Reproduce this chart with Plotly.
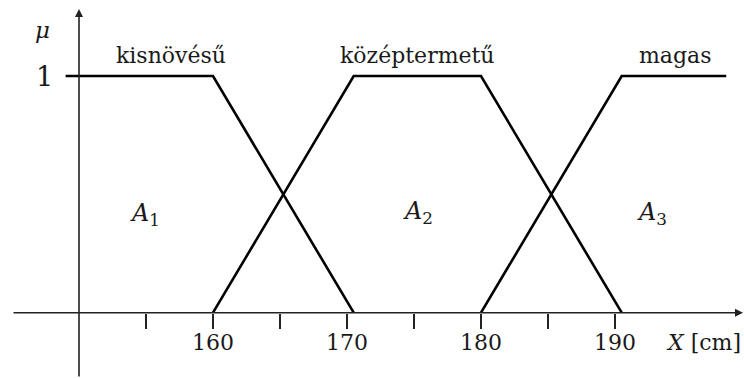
import plotly.graph_objects as go

# Fuzzy membership functions for body height (cm)
a1_x = [149.0, 160.0, 170.5]
a1_mu = [1, 1, 0]
a2_x = [160.0, 170.5, 180.0, 190.5]
a2_mu = [0, 1, 1, 0]
a3_x = [180.0, 190.5, 198.3]
a3_mu = [0, 1, 1]

set_names = ["kisnövésű", "középtermetű", "magas"]
set_symbols = ["A<sub>1</sub>", "A<sub>2</sub>", "A<sub>3</sub>"]

tick_vals = [155, 160, 165, 170, 175, 180, 185, 190]
tick_text = ["", "160", "", "170", "", "180", "", "190"]

W, H = 744, 378
X_RANGE = [144.104, 199.627]
Y_RANGE = [-0.2759, 1.3211]

FONT = "DejaVu Serif"
INK = "#1a1a1a"


def px_to_x(px):
    return X_RANGE[0] + px / W * (X_RANGE[1] - X_RANGE[0])


def py_to_y(py):
    return Y_RANGE[1] - py / H * (Y_RANGE[1] - Y_RANGE[0])


fig = go.Figure()

for xs, ys in [(a1_x, a1_mu), (a2_x, a2_mu), (a3_x, a3_mu)]:
    fig.add_trace(go.Scatter(x=xs, y=ys, mode="lines",
                             line=dict(color="black", width=2.6),
                             hoverinfo="skip", showlegend=False))

# axes drawn as arrows
fig.add_annotation(x=px_to_x(743), y=0, ax=px_to_x(12), ay=0,
                   xref="x", yref="y", axref="x", ayref="y",
                   showarrow=True, arrowhead=2, arrowsize=1.0, arrowwidth=1.6,
                   arrowcolor="#222", text="")
fig.add_annotation(x=150, y=py_to_y(9), ax=150, ay=Y_RANGE[0],
                   xref="x", yref="y", axref="x", ayref="y",
                   showarrow=True, arrowhead=2, arrowsize=1.0, arrowwidth=1.6,
                   arrowcolor="#222", text="")

label_font = dict(family=FONT, size=22, color=INK)

# tick labels under the x axis
for v, t in zip(tick_vals, tick_text):
    if t:
        fig.add_annotation(x=v, y=py_to_y(342), text=t, showarrow=False,
                           xref="x", yref="y", font=label_font,
                           xanchor="center", yanchor="middle")

# set names above the plateaus
for name, cx, cy in zip(set_names, [171, 417, 675], [55, 55, 55]):
    fig.add_annotation(x=px_to_x(cx), y=py_to_y(cy), text=name, showarrow=False,
                       xref="x", yref="y", font=label_font,
                       xanchor="center", yanchor="middle")

# set symbols inside the regions
for sym, cx, cy in zip(set_symbols, [145, 418, 652], [214, 212, 213]):
    fig.add_annotation(x=px_to_x(cx), y=py_to_y(cy), text="<i>" + sym.replace("<sub>", "</i><sub>"),
                       showarrow=False, xref="x", yref="y",
                       font=dict(family=FONT, size=24, color=INK),
                       xanchor="center", yanchor="middle")

fig.add_annotation(x=px_to_x(44), y=1, text="1", showarrow=False,
                   xref="x", yref="y", font=dict(family=FONT, size=27, color=INK),
                   xanchor="center", yanchor="middle")
fig.add_annotation(x=px_to_x(42), y=py_to_y(30), text="<i>μ</i>", showarrow=False,
                   xref="x", yref="y", font=dict(family=FONT, size=23, color=INK),
                   xanchor="center", yanchor="middle")
fig.add_annotation(x=px_to_x(743), y=py_to_y(342), text="<i>X</i> [cm]", showarrow=False,
                   xref="x", yref="y", font=dict(family=FONT, size=22, color=INK),
                   xanchor="right", yanchor="middle")

fig.update_layout(
    width=W, height=H,
    margin=dict(l=0, r=0, t=0, b=0),
    paper_bgcolor="white", plot_bgcolor="white",
    xaxis=dict(range=X_RANGE, anchor="free", position=(H - 312.7) / H,
               showgrid=False, zeroline=False, showline=False,
               ticks="outside", ticklen=15, tickwidth=2, tickcolor="#222",
               tickvals=tick_vals, showticklabels=False),
    yaxis=dict(range=Y_RANGE, showgrid=False, zeroline=False, showline=False,
               showticklabels=False, ticks=""),
)

fig.write_html("out.html")
